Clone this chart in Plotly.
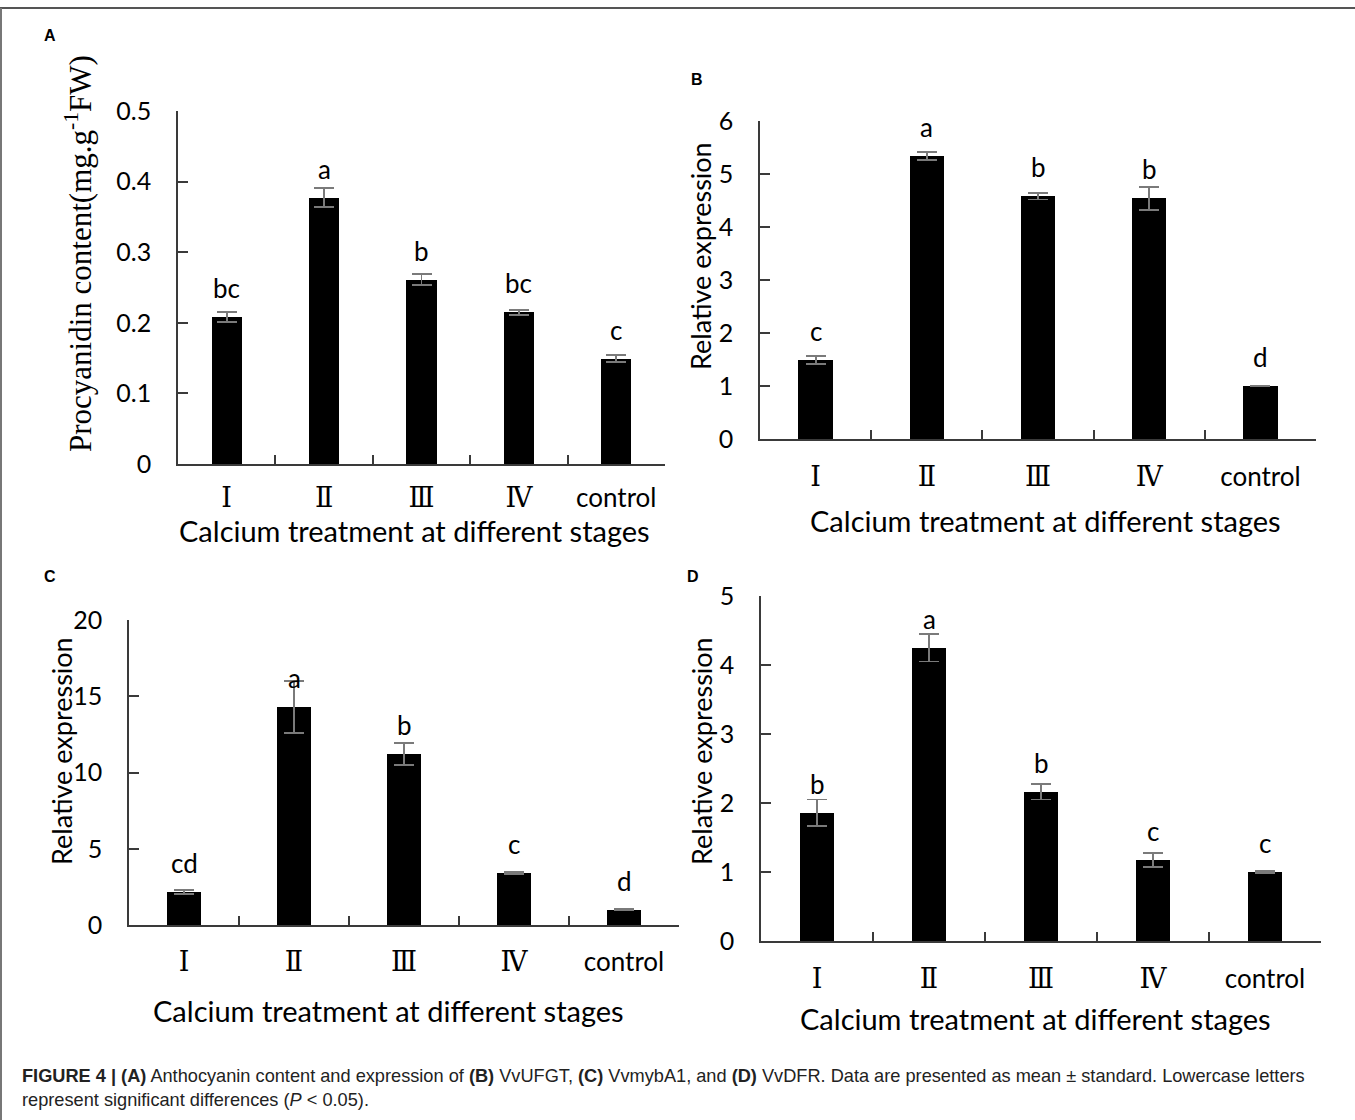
import plotly.graph_objects as go

# ---------------- data ----------------
categories = ["Ⅰ", "Ⅱ", "Ⅲ", "Ⅳ", "control"]

a_values = [0.208, 0.377, 0.261, 0.215, 0.149]
a_errors = [0.007, 0.0135, 0.008, 0.0035, 0.005]
a_letters = ["bc", "a", "b", "bc", "c"]

b_values = [1.49, 5.34, 4.58, 4.54, 1.0]
b_errors = [0.07, 0.07, 0.06, 0.22, 0.01]
b_letters = ["c", "a", "b", "b", "d"]

c_values = [2.16, 14.3, 11.2, 3.41, 1.0]
c_errors = [0.15, 1.7, 0.72, 0.08, 0.05]
c_letters = ["cd", "a", "b", "c", "d"]

d_values = [1.86, 4.25, 2.16, 1.17, 1.0]
d_errors = [0.19, 0.2, 0.11, 0.1, 0.01]
d_letters = ["b", "a", "b", "c", "c"]

a_ticks = [0, 0.1, 0.2, 0.3, 0.4, 0.5]
b_ticks = [0, 1, 2, 3, 4, 5, 6]
c_ticks = [0, 5, 10, 15, 20]
d_ticks = [0, 1, 2, 3, 4, 5]

x_title = "Calcium treatment at different stages"
a_ytitle = "Procyanidin content(mg.g<sup>-1</sup>FW)"
expr_ytitle = "Relative expression"

caption = ("<b>FIGURE 4 | (A)</b> Anthocyanin content and expression of <b>(B)</b> VvUFGT, "
           "<b>(C)</b> VvmybA1, and <b>(D)</b> VvDFR. Data are presented as mean ± standard. "
           "Lowercase letters<br>represent significant differences (<i>P</i> &lt; 0.05).")

# ---------------- layout helpers ----------------
W, H = 1355, 1120
SANS = "Lato, Open Sans, sans-serif"
SERIF_R = "DejaVu Serif, Liberation Serif, serif"
AXC = "#3a3a3a"

def px(x):
    return x / W

def py(y):
    return 1 - y / H

tick_text = [
    f'<span style="font-family:{SERIF_R};font-size:27px">{c}</span>' if c != "control" else c
    for c in categories
]

panels = [
    dict(v=a_values, e=a_errors, l=a_letters, t=a_ticks, yt=a_ytitle,
         xd=(178, 665), yd=(464, 111), lab="A", labpos=(50, 35),
         ytpos=(79, 254), xtpos=(414, 530), serif=True, standoff=10),
    dict(v=b_values, e=b_errors, l=b_letters, t=b_ticks, yt=expr_ytitle,
         xd=(760, 1316), yd=(439, 121), lab="B", labpos=(697, 80),
         ytpos=(701, 256), xtpos=(1045, 520), serif=False, standoff=14),
    dict(v=c_values, e=c_errors, l=c_letters, t=c_ticks, yt=expr_ytitle,
         xd=(129, 679), yd=(925, 620), lab="C", labpos=(50, 577),
         ytpos=(61, 751), xtpos=(388, 1010), serif=False, standoff=13),
    dict(v=d_values, e=d_errors, l=d_letters, t=d_ticks, yt=expr_ytitle,
         xd=(761, 1321), yd=(941, 596), lab="D", labpos=(693, 577),
         ytpos=(701, 751), xtpos=(1035, 1018), serif=False, standoff=14),
]

fig = go.Figure()
annotations = []
layout_axes = {}

for i, p in enumerate(panels, start=1):
    xa = "x" if i == 1 else f"x{i}"
    ya = "y" if i == 1 else f"y{i}"
    fig.add_trace(go.Bar(
        x=categories, y=p["v"], xaxis=xa, yaxis=ya,
        marker=dict(color="black", line=dict(width=0)),
        width=0.31,
        error_y=dict(type="data", array=p["e"], visible=True,
                     color="#7a7a7a", thickness=1.8, width=10),
        showlegend=False, hoverinfo="skip",
    ))
    xkey = "xaxis" if i == 1 else f"xaxis{i}"
    ykey = "yaxis" if i == 1 else f"yaxis{i}"
    layout_axes[xkey] = dict(
        domain=[px(p["xd"][0]), px(p["xd"][1])], anchor=ya,
        type="category", categoryorder="array", categoryarray=categories,
        range=[-0.5, 4.5], automargin=False,
        tickmode="array", tickvals=categories, ticktext=tick_text,
        tickson="boundaries", ticks="inside", ticklen=9, tickwidth=1.5, tickcolor=AXC,
        showline=True, linecolor=AXC, linewidth=1.6,
        showgrid=False, zeroline=False,
        tickfont=dict(family=SANS, size=26, color="black"),
        ticklabelstandoff=p["standoff"],
    )
    layout_axes[ykey] = dict(
        domain=[py(p["yd"][0]), py(p["yd"][1])], anchor=xa,
        range=[p["t"][0], p["t"][-1]], automargin=False,
        tickmode="array", tickvals=p["t"],
        ticktext=[("%g" % t) for t in p["t"]],
        ticks="inside", ticklen=10, tickwidth=1.5, tickcolor=AXC,
        showline=True, linecolor=AXC, linewidth=1.6,
        showgrid=False, zeroline=False,
        tickfont=dict(family=SANS, size=25, color="black"),
        ticklabelstandoff=20,
    )
    for c, v, l in zip(categories, p["v"], p["l"]):
        annotations.append(dict(
            x=c, y=v, xref=xa, yref=ya, text=l, showarrow=False,
            yanchor="middle", yshift=29,
            font=dict(family=SANS, size=26, color="black"),
        ))
    annotations.append(dict(
        x=px(p["labpos"][0]), y=py(p["labpos"][1]), xref="paper", yref="paper",
        text=f"<b>{p['lab']}</b>", showarrow=False, xanchor="center", yanchor="middle",
        font=dict(family="Liberation Sans, Arial, sans-serif", size=16, color="black"),
    ))
    annotations.append(dict(
        x=px(p["ytpos"][0]), y=py(p["ytpos"][1]), xref="paper", yref="paper",
        text=p["yt"], showarrow=False, textangle=-90, xanchor="center", yanchor="middle",
        font=dict(family=("Liberation Serif, Times New Roman, serif" if p["serif"] else SANS),
                  size=(31 if p["serif"] else 27), color="black"),
    ))
    annotations.append(dict(
        x=px(p["xtpos"][0]), y=py(p["xtpos"][1]), xref="paper", yref="paper",
        text=x_title, showarrow=False, xanchor="center", yanchor="middle",
        font=dict(family=SANS, size=29, color="black"),
    ))

annotations.append(dict(
    x=px(20), y=py(1064), xref="paper", yref="paper", text=caption,
    showarrow=False, xanchor="left", yanchor="top", align="left",
    font=dict(family="Liberation Sans, Arial, sans-serif", size=18.2, color="#222222"),
))

shapes = [
    dict(type="line", xref="paper", yref="paper", x0=0, x1=1, y0=py(8), y1=py(8),
         line=dict(color="#555555", width=2)),
    dict(type="line", xref="paper", yref="paper", x0=px(1), x1=px(1), y0=py(8), y1=0,
         line=dict(color="#777777", width=2)),
]

fig.update_layout(
    width=W, height=H, margin=dict(l=0, r=0, t=0, b=0, autoexpand=False),
    paper_bgcolor="white", plot_bgcolor="white",
    annotations=annotations, shapes=shapes, bargap=0,
    **layout_axes,
)

fig.write_html("out.html")
